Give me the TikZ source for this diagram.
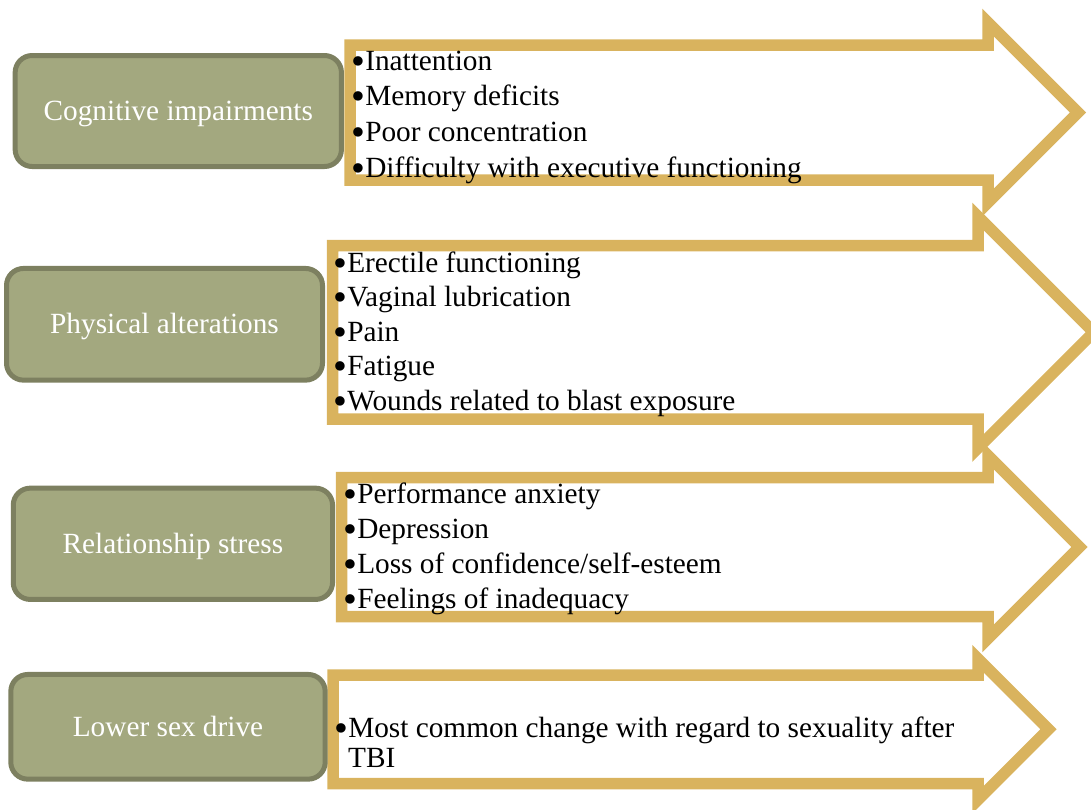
\documentclass[tikz,border=0pt]{standalone}
\usepackage{graphicx}
\usepackage{fontspec}
\setmainfont{Liberation Serif}
\definecolor{gold}{HTML}{D9B35E}
\definecolor{olivefill}{HTML}{A3A87F}
\definecolor{olivedraw}{HTML}{7D8060}
\newcommand\bulletmark{\smash{\raisebox{-4pt}{\scalebox{1.35}{•}}}}
\begin{document}
\begin{tikzpicture}[x=1pt,y=-1pt,
  catbox/.style={draw=olivedraw, fill=olivefill, line width=5pt, rounded corners=17pt,
    text=white, font=\fontsize{29.3}{35}\selectfont, text height=20pt, text depth=1pt, inner sep=0pt},
  arrowshape/.style={draw=gold, line width=11.5pt, line join=miter},
  item/.style={anchor=base west, inner sep=0pt, font=\fontsize{29.3}{35}\selectfont}]
\clip (0,0) rectangle (1091,809);
\useasboundingbox (0,0) rectangle (1091,809);
% arrows
\draw[arrowshape] (350,45) -- (988,45) -- (988,22.5) -- (1078,112.5) -- (988,202.5) -- (988,180) -- (350,180) -- cycle;
\draw[arrowshape] (332.5,245.5) -- (978,245.5) -- (978,216.5) -- (1093.75,332.25) -- (978,448) -- (978,419) -- (332.5,419) -- cycle;
\draw[arrowshape] (341.5,477.5) -- (988,477.5) -- (988,455.5) -- (1079.5,547) -- (988,638.5) -- (988,616.5) -- (341.5,616.5) -- cycle;
\draw[arrowshape] (333,675) -- (978,675) -- (978,658.75) -- (1048.5,729.25) -- (978,799.75) -- (978,783.5) -- (333,783.5) -- cycle;
% category boxes
\node[catbox, minimum width=326.3pt, minimum height=111pt] (c1) at (178.3,111) {Cognitive impairments};
\node[catbox, minimum width=316pt, minimum height=111.7pt] (c2) at (164.5,324.3) {Physical alterations};
\node[catbox, minimum width=319.3pt, minimum height=111.3pt] (c3) at (172.9,543.8) {Relationship stress};
\node[catbox, minimum width=314.4pt, minimum height=104.7pt] (c4) at (168,726.8) {Lower sex drive};
% items
\node[item] (i11) at (351.2,70) {\bulletmark Inattention};
\node[item] (i12) at (351.2,105.7) {\bulletmark Memory deficits};
\node[item] (i13) at (351.2,141.3) {\bulletmark Poor concentration};
\node[item] (i14) at (351.2,177) {\bulletmark Difficulty with executive functioning};
\node[item] (i21) at (333.2,272) {\bulletmark Erectile functioning};
\node[item] (i22) at (333.2,306.5) {\bulletmark Vaginal lubrication};
\node[item] (i23) at (333.2,341) {\bulletmark Pain};
\node[item] (i24) at (333.2,375.5) {\bulletmark Fatigue};
\node[item] (i25) at (333.2,410) {\bulletmark Wounds related to blast exposure};
\node[item] (i31) at (343.2,503) {\bulletmark Performance anxiety};
\node[item] (i32) at (343.2,538) {\bulletmark Depression};
\node[item] (i33) at (343.2,573) {\bulletmark Loss of confidence/self-esteem};
\node[item] (i34) at (343.2,608) {\bulletmark Feelings of inadequacy};
\node[item] (i41) at (334.2,737) {\bulletmark Most common change with regard to sexuality after};
\node[item] (i42) at (348,767) {TBI};
\end{tikzpicture}
\end{document}
